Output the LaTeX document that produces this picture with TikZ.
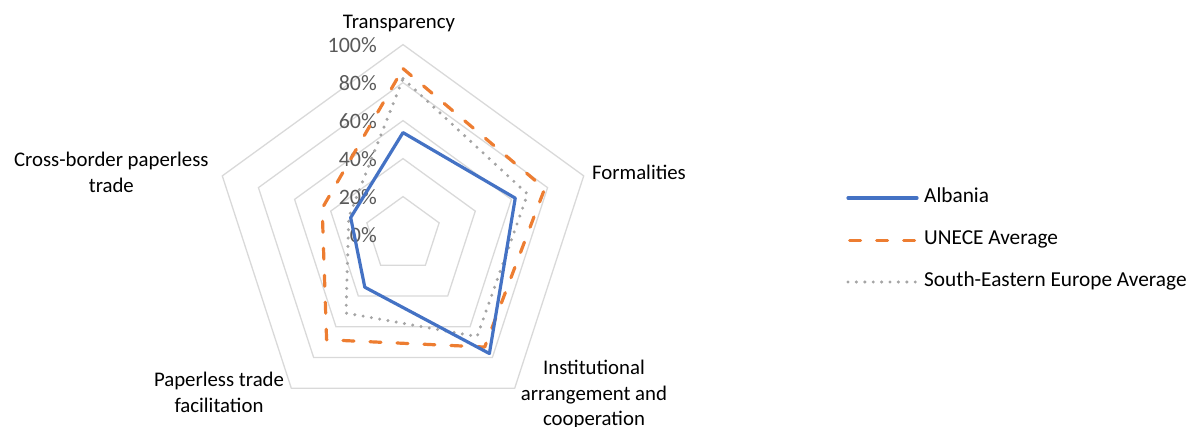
\documentclass[tikz,border=0pt]{standalone}
\usepackage{fontspec}
\setmainfont{Carlito}
\usetikzlibrary{calc}
\definecolor{gridc}{HTML}{D9D9D9}
\definecolor{albc}{HTML}{4472C4}
\definecolor{unc}{HTML}{ED7D31}
\definecolor{seec}{HTML}{A5A5A5}
\definecolor{pctc}{HTML}{595959}
\begin{document}
\begin{tikzpicture}[x=1pt,y=-1pt,
  ring/.style={draw=gridc,line width=1.3pt},
  alb/.style={draw=albc,line width=3.2pt,line join=round},
  unece/.style={draw=unc,line width=3.2pt,dash pattern=on 11pt off 16pt,line cap=round,line join=round},
  see/.style={draw=seec,line width=3.4pt,dash pattern=on 0pt off 8.4pt,line cap=round},
  cat/.style={font=\fontsize{20.8}{24}\selectfont,text=black,inner sep=0pt,anchor=base},
  pct/.style={font=\fontsize{22}{26}\selectfont,text=pctc,inner sep=0pt,anchor=base east},
  leg/.style={font=\fontsize{21.3}{24}\selectfont,text=black,inner sep=0pt,anchor=base west}]
\useasboundingbox (0,0) rectangle (1188,427);
\coordinate (ctr) at (403,234.6);
% grid rings
\foreach \r in {38,76,114,152,190} {
  \draw[ring] ($(ctr)+(-90:\r)$) -- ($(ctr)+(-18:\r)$) -- ($(ctr)+(54:\r)$) -- ($(ctr)+(126:\r)$) -- ($(ctr)+(198:\r)$) -- cycle;
}
% percent labels
\node[pct] (p100) at (377,52.2) {100\%};
\node[pct] (p80) at (377,90.2) {80\%};
\node[pct] (p60) at (377,128.2) {60\%};
\node[pct] (p40) at (377,166.2) {40\%};
\node[pct] (p20) at (377,204.2) {20\%};
\node[pct] (p0) at (377,242.2) {0\%};
% data points
\coordinate (uT) at ($(ctr)+(-90:166)$);
\coordinate (uF) at ($(ctr)+(-18:149)$);
\coordinate (uI) at ($(ctr)+(54:139)$);
\coordinate (uP) at ($(ctr)+(126:130)$);
\coordinate (uC) at ($(ctr)+(198:85)$);
\coordinate (sT) at ($(ctr)+(-90:156)$);
\coordinate (sF) at ($(ctr)+(-18:131)$);
\coordinate (sI) at ($(ctr)+(54:126)$);
\coordinate (sP) at ($(ctr)+(126:97)$);
\coordinate (sC) at ($(ctr)+(198:57)$);
\coordinate (aT) at ($(ctr)+(-90:102)$);
\coordinate (aF) at ($(ctr)+(-18:118)$);
\coordinate (aI) at ($(ctr)+(54:147)$);
\coordinate (aP) at ($(ctr)+(126:65)$);
\coordinate (aC) at ($(ctr)+(198:55)$);
\draw[unece] (uT) -- (uF) -- (uI) -- (uP) -- (uC) -- cycle;
\draw[see] (sT) -- (sF) -- (sI) -- (sP) -- (sC) -- cycle;
\draw[alb] (aT) -- (aF) -- (aI) -- (aP) -- (aC) -- cycle;
% category labels
\node[cat] (cT) at (399,28.3) {Transparency};
\node[cat] (cF) at (639,179.3) {Formalities};
\node[cat] (cI1) at (594,374) {Institutional};
\node[cat] (cI2) at (594,400) {arrangement and};
\node[cat] (cI3) at (594,425.5) {cooperation};
\node[cat] (cP1) at (219,386.7) {Paperless trade};
\node[cat] (cP2) at (219,412.7) {facilitation};
\node[cat] (cC1) at (111.3,166.7) {Cross-border paperless};
\node[cat] (cC2) at (111.3,192.7) {trade};
% legend
\coordinate (l1a) at (848,198);
\coordinate (l1b) at (917,198);
\coordinate (l2a) at (849.6,240.5);
\coordinate (l2b) at (914.6,240.5);
\coordinate (l3a) at (848,282);
\coordinate (l3b) at (917,282);
\draw[alb,line cap=round] (l1a) -- (l1b);
\draw[unece] (l2a) -- (l2b);
\draw[see] (l3a) -- (l3b);
\node[leg] (t1) at (924,203) {Albania};
\node[leg] (t2) at (924,245) {UNECE Average};
\node[leg] (t3) at (924,287) {South-Eastern Europe Average};
\end{tikzpicture}
\end{document}
